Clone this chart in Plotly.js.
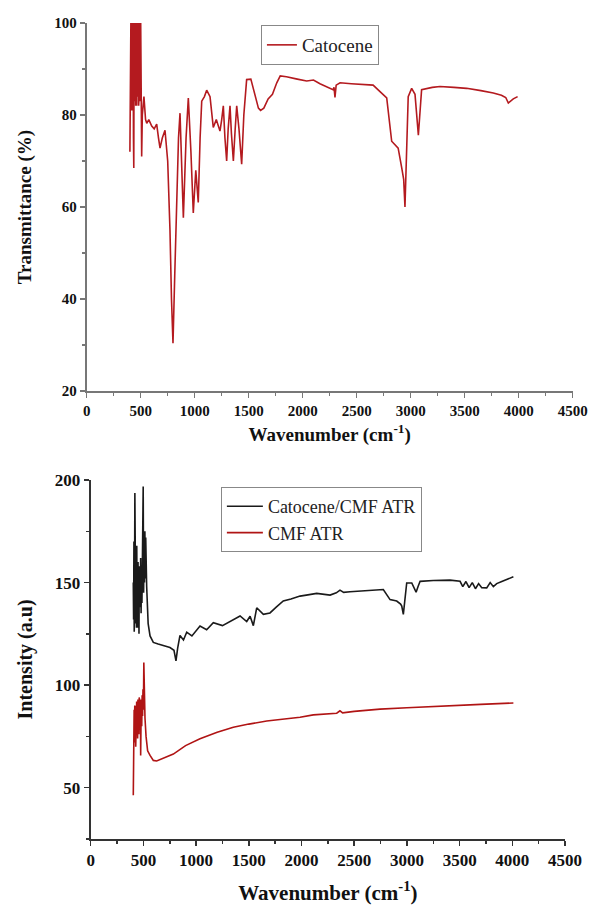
<!DOCTYPE html>
<html>
<head>
<meta charset="utf-8">
<script src="https://cdn.plot.ly/plotly-3.0.1.min.js"></script>
<style>html,body{margin:0;padding:0;background:#fff;}#chart{width:589px;height:906px;}</style>
</head>
<body>
<div id="chart"></div>
<script>
// Top panel: Catocene FTIR transmittance
const catoceneWn = [400,403,406,409,412,415,418,421,424,427,430,433,436,439,442,445,448,451,454,457,460,463,466,469,472,475,478,481,484,487,490,495,500,505,509,515,530,545,556,575,602,625,648,665,679,700,725,750,771,785,799,815,833,850,864,880,895,920,941,965,987,1010,1033,1050,1065,1090,1111,1142,1160,1172,1200,1234,1250,1265,1280,1296,1310,1327,1340,1358,1375,1389,1410,1435,1455,1481,1520,1560,1590,1610,1640,1680,1720,1760,1792,1850,1900,1950,2037,2100,2160,2222,2281,2290,2299,2310,2346,2450,2550,2652,2716,2778,2824,2860,2884,2917,2935,2947,2960,2977,3009,3040,3071,3085,3101,3200,3271,3400,3518,3650,3765,3840,3880,3904,3950,3990];
const catoceneT = [72,100,82,100,86,100,81,100,90,82,100,75,68.5,100,83,100,85,100,82,100,88,82,100,84,100,86,100,82,100,86,100,83,100,75,71,80,84,79,78.2,79,77.6,77,78,75,72.8,75,76.7,70,55,40,30.4,45,60,75,80.4,70,57.7,75,83.7,72,58.7,68,61,75,83,84,85.4,84,80,77.3,79,76.5,79,82,75,70,77,82,76,70,77,82,77,69.3,80,87.7,87.8,84,81.5,81,81.5,83.5,84.5,87,88.5,88.3,88,87.8,87.4,87.6,86.8,86.2,85.5,86,83.8,86.5,87,86.8,86.6,86.5,85.1,83.7,74.3,73.5,72.8,68.5,66,60,70,84,85.8,84.5,75.6,80,85.5,86,86.2,86,85.8,85.3,84.8,84.3,83.8,82.6,83.5,84];

// Bottom panel: ATR intensity
const compositeWn = [404,407,410,413,416,419,422,425,428,431,434,437,440,443,446,449,452,455,458,461,464,467,470,474,478,482,486,490,494,498,502,506,510,514,518,522,531,545,563,594,640,689,752,790,809,825,847,880,911,960,1037,1100,1163,1250,1353,1417,1480,1512,1543,1575,1638,1701,1760,1827,1900,1986,2060,2144,2271,2330,2365,2400,2460,2600,2776,2840,2903,2940,2951,2966,2975,2998,3046,3070,3087,3105,3125,3250,3409,3504,3530,3560,3590,3620,3650,3680,3710,3757,3790,3820,3852,3900,3950,4010];
const compositeI = [150,132,170,126,150,193.7,135,165,130,160,128,168,135,155,128,160,140,150,125,158,140,155,138,162,135,158,140,160,150,196.8,145,170,150,175,152,172,148,130,124,120.8,120,119.2,118.3,117,111.8,118,124.2,122,125.8,124,128.8,127,130.4,129,132,133.7,131,133.6,129,137.7,134.5,135.2,138,141,142,143.4,144,144.7,143.9,145,146.3,145.2,145.5,146,146.6,141.7,141,139.5,138.5,134.5,140,149.8,149.8,147,145.3,148,150.6,151,151.2,150.6,148,150.5,147.5,150,147,149.5,147.5,147.4,150,148,149.5,150.5,151.5,152.8];

const cmfWn = [404,406,409,412,415,418,421,424,427,430,433,436,439,442,445,448,451,454,457,460,463,466,469,472,474,477,480,484,488,492,496,500,504,506,510,515,525,540,563,594,626,700,784,900,1037,1200,1353,1500,1670,1796,1986,2112,2250,2334,2365,2390,2500,2745,3000,3378,3700,4010];
const cmfI = [46.3,75.4,70,88,72,90,76,89,70,91.6,78,92,80,90,74,93,82,91,76,94,84,92,78,90,65.7,86,93,80,95,85,98,88,111,100,92,84,75,68,65.7,63.3,63,64.5,66.4,70.5,73.8,77,79.5,81,82.5,83.2,84.3,85.5,86,86.3,87.5,86.5,87.2,88.3,89,90,90.6,91.3];

const xTicks = [0,500,1000,1500,2000,2500,3000,3500,4000,4500];

const serif = 'Liberation Serif, Times New Roman, serif';

const traces = [
  {x: catoceneWn, y: catoceneT, type: 'scatter', mode: 'lines', name: 'Catocene',
   line: {color: '#b41a1f', width: 1.6}, xaxis: 'x', yaxis: 'y', legend: 'legend'},
  {x: compositeWn, y: compositeI, type: 'scatter', mode: 'lines', name: 'Catocene/CMF ATR',
   line: {color: '#1a1a1a', width: 1.6}, xaxis: 'x2', yaxis: 'y2', legend: 'legend2'},
  {x: cmfWn, y: cmfI, type: 'scatter', mode: 'lines', name: 'CMF ATR',
   line: {color: '#b01414', width: 1.6}, xaxis: 'x2', yaxis: 'y2', legend: 'legend2'}
];

function xAxis(domain, anchor, tsize, titleSize, color, standoff) {
  return {
    domain: domain, anchor: anchor, range: [0, 4500],
    tickvals: xTicks, ticktext: xTicks.map(String),
    ticks: 'outside', ticklen: 5, tickwidth: 1.5, tickcolor: color,
    minor: {ticks: 'outside', ticklen: 3, dtick: 250, tick0: 0, tickcolor: color},
    showline: true, linecolor: color, linewidth: 2,
    showgrid: false, zeroline: false,
    tickfont: {family: serif, size: tsize, weight: 'bold', color: '#111'},
    title: {text: 'Wavenumber (cm<sup>-1</sup>)', font: {family: serif, size: titleSize, weight: 'bold', color: '#111'}, standoff: standoff}
  };
}

const layout = {
  width: 589, height: 906,
  margin: {l: 0, r: 0, t: 0, b: 0},
  paper_bgcolor: '#fff', plot_bgcolor: '#fff',
  showlegend: true,
  xaxis: xAxis([0.1472, 0.9723], 'y', 15, 19, '#777', 10),
  yaxis: {
    domain: [0.5684, 0.9746], anchor: 'x', range: [20, 100],
    tick0: 0, dtick: 20,
    ticks: 'outside', ticklen: 5, tickwidth: 1.5, tickcolor: '#777',
    minor: {ticks: 'outside', ticklen: 3, dtick: 10, tick0: 0, tickcolor: '#777'},
    showline: true, linecolor: '#777', linewidth: 2,
    showgrid: false, zeroline: false,
    tickfont: {family: serif, size: 15, weight: 'bold', color: '#111'},
    title: {text: 'Transmittance (%)', font: {family: serif, size: 19, weight: 'bold', color: '#111'}, standoff: 18}
  },
  xaxis2: xAxis([0.154, 0.9593], 'y2', 17, 21, '#333', 16),
  yaxis2: {
    domain: [0.0740, 0.4702], anchor: 'x2', range: [25, 200],
    tick0: 0, dtick: 50,
    ticks: 'outside', ticklen: 5, tickwidth: 1.5, tickcolor: '#333',
    minor: {ticks: 'outside', ticklen: 3, dtick: 25, tick0: 0, tickcolor: '#333'},
    showline: true, linecolor: '#333', linewidth: 2,
    showgrid: false, zeroline: false,
    tickfont: {family: serif, size: 17, weight: 'bold', color: '#111'},
    title: {text: 'Intensity (a.u)', font: {family: serif, size: 20, weight: 'bold', color: '#111'}, standoff: 17}
  },
  legend: {
    x: 0.443, y: 0.9724, xanchor: 'left', yanchor: 'top',
    bordercolor: '#888', borderwidth: 1, bgcolor: '#fff',
    font: {family: serif, size: 19, color: '#222'}
  },
  legend2: {
    x: 0.375, y: 0.4625, xanchor: 'left', yanchor: 'top',
    bordercolor: '#888', borderwidth: 1, bgcolor: '#fff',
    traceorder: 'normal', itemwidth: 36,
    font: {family: serif, size: 18, color: '#222'}
  }
};

Plotly.newPlot('chart', traces, layout, {displayModeBar: false, staticPlot: true});
</script>
</body>
</html>
